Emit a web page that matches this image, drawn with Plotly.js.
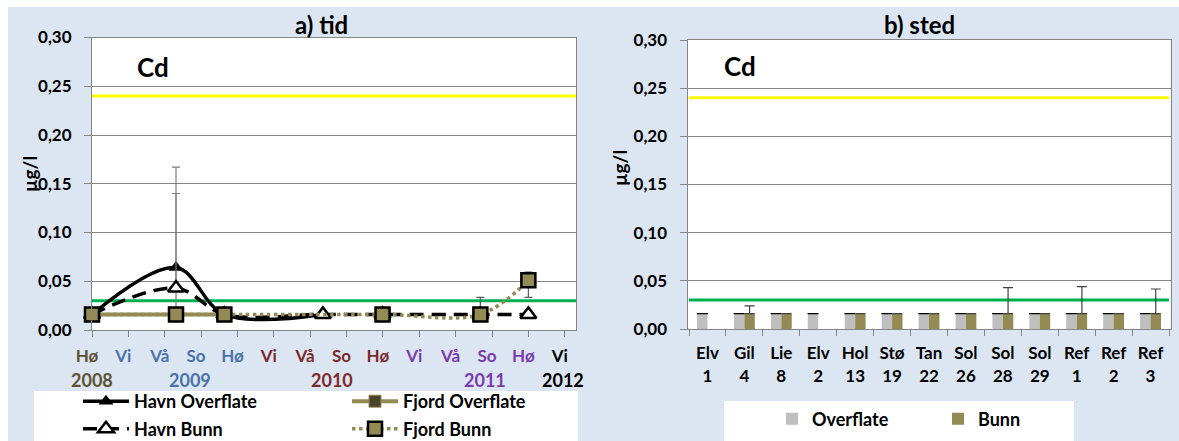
<!DOCTYPE html>
<html><head><meta charset="utf-8">
<script src="https://cdn.plot.ly/plotly-3.0.1.min.js"></script>
<style>
html,body{margin:0;padding:0;background:#fff;}
#chart{position:absolute;left:8px;top:7px;width:1171px;height:434px;}
</style></head><body><div id="chart"></div>
<script>
// ---------- data: a) tid ----------
const seasonLabels = ['Hø','Vi','Vå','So','Hø','Vi','Vå','So','Hø','Vi','Vå','So','Hø','Vi'];
const seasonColors = ['#5a5232','#4a72a8','#4a72a8','#4a72a8','#4a72a8','#7b2a2a','#7b2a2a','#7b2a2a','#7b2a2a','#7b3aae','#7b3aae','#7b3aae','#7b3aae','#000000'];
const yearLabels = ['2008','2009','2010','2011','2012'];
const yearPos = [0, 2.7, 6.6, 10.8, 12.95];
const yearColors = ['#5a5232','#4a72a8','#7b2a2a','#7b3aae','#000000'];

const havnOverflateX = [0, 2.31, 3.64, 6.35];
const havnOverflateY = [0.016, 0.064, 0.016, 0.016];
const havnOverflateErrPlus = [NaN, 0.103, NaN, NaN];
const havnOverflateErrMinus = [NaN, 0.048, NaN, NaN];

const havnBunnX = [0, 2.31, 3.64, 6.35, 7.99, 10.68, 12.0];
const havnBunnY = [0.016, 0.043, 0.016, 0.016, 0.016, 0.016, 0.016];
const havnBunnErrPlus = [NaN, 0.097, NaN, NaN, NaN, NaN, NaN];

const fjordOverflateX = [0, 2.31, 3.64];
const fjordOverflateY = [0.016, 0.016, 0.016];

const fjordBunnX = [0, 2.31, 3.64, 7.99, 10.68, 12.0];
const fjordBunnY = [0.016, 0.016, 0.016, 0.016, 0.016, 0.051];
const fjordBunnErrPlus = [NaN, NaN, NaN, NaN, 0.0175, 0.0085];
const fjordBunnErrMinus = [NaN, NaN, NaN, NaN, 0, 0.0175];

// ---------- data: b) sted ----------
const stations = ['Elv<br>1','Gil<br>4','Lie<br>8','Elv<br>2','Hol<br>13','Stø<br>19','Tan<br>22','Sol<br>26','Sol<br>28','Sol<br>29','Ref<br>1','Ref<br>2','Ref<br>3'];
const overflateVals = [0.016,0.016,0.016,0.016,0.016,0.016,0.016,0.016,0.016,0.016,0.016,0.016,0.016];
const overflateErr = [0,0,0,0,0,0,0,0,0,0,0,0,0];
const bunnVals = [null,0.016,0.016,null,0.016,0.016,0.016,0.016,0.016,0.016,0.016,0.016,0.016];
const bunnErr = [0,0.008,0,0,0,0,0,0,0.027,0,0.028,0,0.0255];

const limitValues = [0.24, 0.03];
const limitColors = ['#ffff00', '#00b050'];

// ---------- styling ----------
const FONT = 'Lato, "Open Sans", "DejaVu Sans", sans-serif';
const OLIVE = '#948a54';
const W = 1171, H = 434;
const px = v => v / W;
const py = v => (H - v) / H;

const tickfont = {family: FONT, size: 17, color: '#000', weight: 700};
const legendFont = {family: FONT, size: 18, color: '#000', weight: 700};

const traces = [
  {
    name: 'Fjord Overflate', x: fjordOverflateX, y: fjordOverflateY, xaxis: 'x', yaxis: 'y',
    type: 'scatter', mode: 'lines+markers', legend: 'legend', legendrank: 2, cliponaxis: false,
    line: {color: OLIVE, width: 4},
    marker: {symbol: 'square', size: 12, color: '#4a452a', line: {color: OLIVE, width: 1}}
  },
  {
    name: 'Havn Overflate', x: havnOverflateX, y: havnOverflateY, xaxis: 'x', yaxis: 'y',
    type: 'scatter', mode: 'lines+markers', legend: 'legend', legendrank: 1, cliponaxis: false,
    line: {color: '#000', width: 3.5, shape: 'spline', smoothing: 1},
    marker: {symbol: 'triangle-up', size: 13, color: '#000'},
    error_y: {type: 'data', array: havnOverflateErrPlus, arrayminus: havnOverflateErrMinus, symmetric: false,
              color: '#7f7f7f', thickness: 1.2, width: 4}
  },
  {
    name: 'Havn Bunn', x: havnBunnX, y: havnBunnY, xaxis: 'x', yaxis: 'y',
    type: 'scatter', mode: 'lines+markers', legend: 'legend2', cliponaxis: false,
    line: {color: '#000', width: 3.5, dash: '14px,8px', shape: 'spline', smoothing: 1},
    marker: {symbol: 'triangle-up', size: 14, color: '#fff', line: {color: '#000', width: 2.5}},
    error_y: {type: 'data', array: havnBunnErrPlus, symmetric: false,
              color: '#7f7f7f', thickness: 1.2, width: 4}
  },
  {
    name: 'Fjord Bunn', x: fjordBunnX, y: fjordBunnY, xaxis: 'x', yaxis: 'y',
    type: 'scatter', mode: 'lines+markers', legend: 'legend2', cliponaxis: false,
    line: {color: OLIVE, width: 3.5, dash: 'dot', shape: 'spline', smoothing: 1},
    marker: {symbol: 'square', size: 14, color: OLIVE, line: {color: '#000', width: 2.5}},
    error_y: {type: 'data', array: fjordBunnErrPlus, arrayminus: fjordBunnErrMinus, symmetric: false,
              color: '#595959', thickness: 1.2, width: 4}
  },
  {
    name: 'Overflate', x: stations, y: overflateVals, xaxis: 'x2', yaxis: 'y2', type: 'bar',
    legend: 'legend3', marker: {color: '#bfbfbf'},
    error_y: {type: 'data', array: overflateErr, color: '#000', thickness: 1.2, width: 5.5}
  },
  {
    name: 'Bunn', x: stations, y: bunnVals, xaxis: 'x2', yaxis: 'y2', type: 'bar',
    legend: 'legend3', marker: {color: OLIVE},
    error_y: {type: 'data', array: bunnErr, arrayminus: overflateErr, symmetric: false, color: '#404040', thickness: 1.2, width: 5}
  }
];

const seasonText = seasonLabels.map((s, i) => '<span style="color:' + seasonColors[i] + '">' + s + '</span>');

const yCommon = {
  range: [0, 0.30], dtick: 0.05, tickformat: '.2f', showgrid: true, gridcolor: '#868686', gridwidth: 1,
  zeroline: false, showline: true, linecolor: '#868686', linewidth: 1, mirror: true,
  ticks: 'outside', ticklen: 7, tickcolor: '#868686', tickfont: tickfont, ticklabelstandoff: 9, fixedrange: true
};

const annotations = [];
const titleFont = {family: FONT, size: 24, color: '#000', weight: 700};
const cdFont = {family: FONT, size: 26, color: '#000', weight: 700};
const unitFont = {family: FONT, size: 19, color: '#000', weight: 700};
annotations.push({text: 'a) tid', xref: 'paper', yref: 'paper', x: px(313.5), y: py(17), showarrow: false,
  xanchor: 'center', yanchor: 'middle', font: titleFont});
annotations.push({text: 'b) sted', xref: 'paper', yref: 'paper', x: px(911.4), y: py(17), showarrow: false,
  xanchor: 'center', yanchor: 'middle', font: titleFont});
annotations.push({text: 'Cd', xref: 'paper', yref: 'paper', x: px(145), y: py(59.7), showarrow: false,
  xanchor: 'center', yanchor: 'middle', font: cdFont});
annotations.push({text: 'Cd', xref: 'paper', yref: 'paper', x: px(732), y: py(58.7), showarrow: false,
  xanchor: 'center', yanchor: 'middle', font: cdFont});
annotations.push({text: 'µg/l', xref: 'paper', yref: 'paper', x: px(21.5), y: py(167.5), showarrow: false,
  textangle: -90, xanchor: 'center', yanchor: 'middle', font: unitFont});
annotations.push({text: 'µg/l', xref: 'paper', yref: 'paper', x: px(611.5), y: py(161.5), showarrow: false,
  textangle: -90, xanchor: 'center', yanchor: 'middle', font: unitFont});
yearLabels.forEach((t, i) => annotations.push({
  text: t, xref: 'x', yref: 'paper', x: yearPos[i], y: py(372.5), showarrow: false, borderpad: 0,
  xanchor: 'center', yanchor: 'middle', font: {family: FONT, size: 18, color: yearColors[i], weight: 700}
}));

const shapes = [
  {type: 'rect', xref: 'paper', yref: 'paper', x0: px(26), x1: px(570), y0: 0, y1: py(384),
   fillcolor: '#ffffff', line: {width: 0}, layer: 'below'},
  {type: 'rect', xref: 'paper', yref: 'paper', x0: px(716), x1: px(1066), y0: 0, y1: py(394),
   fillcolor: '#ffffff', line: {width: 0}, layer: 'below'}
];
['y', 'y2'].forEach((ya, k) => {
  limitValues.forEach((v, i) => shapes.push({
    type: 'line', xref: k === 0 ? 'x' : 'x2', x0: k === 0 ? 0 : -0.5, x1: k === 0 ? 13.31 : 12.5,
    yref: ya, y0: v, y1: v,
    line: {color: limitColors[i], width: 3}, layer: 'below'
  }));
});

const layout = {
  width: W, height: H, margin: {l: 0, r: 0, t: 0, b: 0, autoexpand: false},
  paper_bgcolor: '#dce6f2', plot_bgcolor: '#ffffff',
  separators: ', ', showlegend: true, font: {family: FONT},
  barmode: 'group', bargap: 0.435, bargroupgap: 0,
  xaxis: {
    domain: [px(84), px(568)], range: [0, 13.31], tickvals: seasonLabels.map((s, i) => i), ticktext: seasonText,
    showgrid: false, zeroline: false, showline: true, linecolor: '#868686', mirror: true,
    ticks: 'outside', ticklen: 6, tickcolor: '#868686', tickfont: tickfont, ticklabelstandoff: 5, ticklabelshift: -5,
    tickangle: 0, anchor: 'y', fixedrange: true
  },
  yaxis: Object.assign({}, yCommon, {domain: [py(323), py(30.5)], anchor: 'x'}),
  xaxis2: {
    domain: [px(679.5), px(1162.5)], type: 'category', tickson: 'boundaries',
    showgrid: false, zeroline: false, showline: true, linecolor: '#868686', mirror: true,
    ticks: 'outside', ticklen: 6, tickcolor: '#868686', tickfont: tickfont, ticklabelstandoff: 9,
    tickangle: 0, anchor: 'y2', fixedrange: true
  },
  yaxis2: Object.assign({}, yCommon, {domain: [py(322), py(33)], anchor: 'x2'}),
  legend: {orientation: 'h', x: px(70), xanchor: 'left', y: py(394.5), yanchor: 'middle',
           entrywidth: 208, entrywidthmode: 'pixels', itemwidth: 46, font: legendFont,
           bgcolor: 'rgba(0,0,0,0)', borderwidth: 0, traceorder: 'normal'},
  legend2: {orientation: 'h', x: px(70), xanchor: 'left', y: py(422), yanchor: 'middle',
           entrywidth: 208, entrywidthmode: 'pixels', itemwidth: 46, font: legendFont,
           bgcolor: 'rgba(0,0,0,0)', borderwidth: 0, traceorder: 'normal'},
  legend3: {orientation: 'h', x: px(764), xanchor: 'left', y: py(412), yanchor: 'middle',
           entrywidth: 121, entrywidthmode: 'pixels', itemwidth: 30, font: legendFont,
           bgcolor: 'rgba(0,0,0,0)', borderwidth: 0, traceorder: 'normal'},
  annotations: annotations,
  shapes: shapes
};

Plotly.newPlot('chart', traces, layout, {displayModeBar: false});
</script>
</body></html>
